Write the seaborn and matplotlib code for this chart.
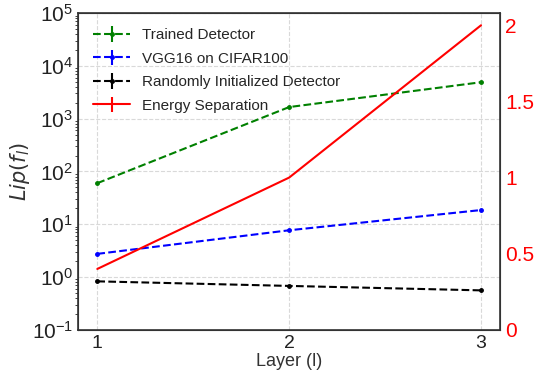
import numpy as np
import matplotlib
matplotlib.use('Agg')
import matplotlib.pyplot as plt
import seaborn as sns

layers = [1, 2, 3]
trained = [60, 1660, 4900]
vgg16 = [2.75, 7.7, 18.6]
random_init = [0.83, 0.68, 0.56]
energy_sep = [0.40, 1.0, 2.0]

sns.set_style('whitegrid', {'grid.linestyle': '--', 'grid.color': '#d9d9d9',
                            'axes.edgecolor': '#333333'})
plt.rcParams['font.family'] = ['Liberation Sans', 'DejaVu Sans']
plt.rcParams['mathtext.fontset'] = 'dejavusans'

fig, ax = plt.subplots(figsize=(5.35, 3.74), dpi=100)
zeros = np.zeros(3)

h1 = ax.errorbar(layers, trained, yerr=zeros, color='green', ls='--', marker='.',
                 markersize=5, lw=1.5, label='Trained Detector')
h2 = ax.errorbar(layers, vgg16, yerr=zeros, color='blue', ls='--', marker='.',
                 markersize=5, lw=1.5, label='VGG16 on CIFAR100')
h3 = ax.errorbar(layers, random_init, yerr=zeros, color='black', ls='--', marker='.',
                 markersize=5, lw=1.5, label='Randomly Initialized Detector')
ax.set_yscale('log')
ax.set_ylim(0.1, 1e5)
ax.set_xlim(0.9, 3.1)
ax.set_xticks(layers)
ax.set_xlabel('Layer (l)', fontsize=13, color='#333333', labelpad=1)
ax.set_ylabel(r'$Lip(f_l)$', fontsize=15, color='#333333', labelpad=0)
ax.tick_params(axis='both', labelsize=15, colors='#222222', length=0)
ax.tick_params(axis='x', labelsize=14)
for s in ax.spines.values():
    s.set_linewidth(1.2)

ax2 = ax.twinx()
h4 = ax2.errorbar(layers, energy_sep, yerr=zeros, color='red', ls='-', lw=1.5,
                  label='Energy Separation')
ax2.set_ylim(0, 2.08)
ax2.set_yticks([0, 0.5, 1, 1.5, 2])
ax2.set_yticklabels(['0', '0.5', '1', '1.5', '2'])
ax2.tick_params(axis='y', labelsize=15, colors='red', length=0)
ax2.grid(False)

ax.legend([h1, h2, h3, h4],
          ['Trained Detector', 'VGG16 on CIFAR100', 'Randomly Initialized Detector',
           'Energy Separation'],
          loc='upper left', fontsize=11, frameon=False, handlelength=2.4,
          labelspacing=0.62, borderaxespad=0.6)

fig.subplots_adjust(left=0.146, right=0.935, top=0.965, bottom=0.118)
fig.savefig('out.png', dpi=100)
